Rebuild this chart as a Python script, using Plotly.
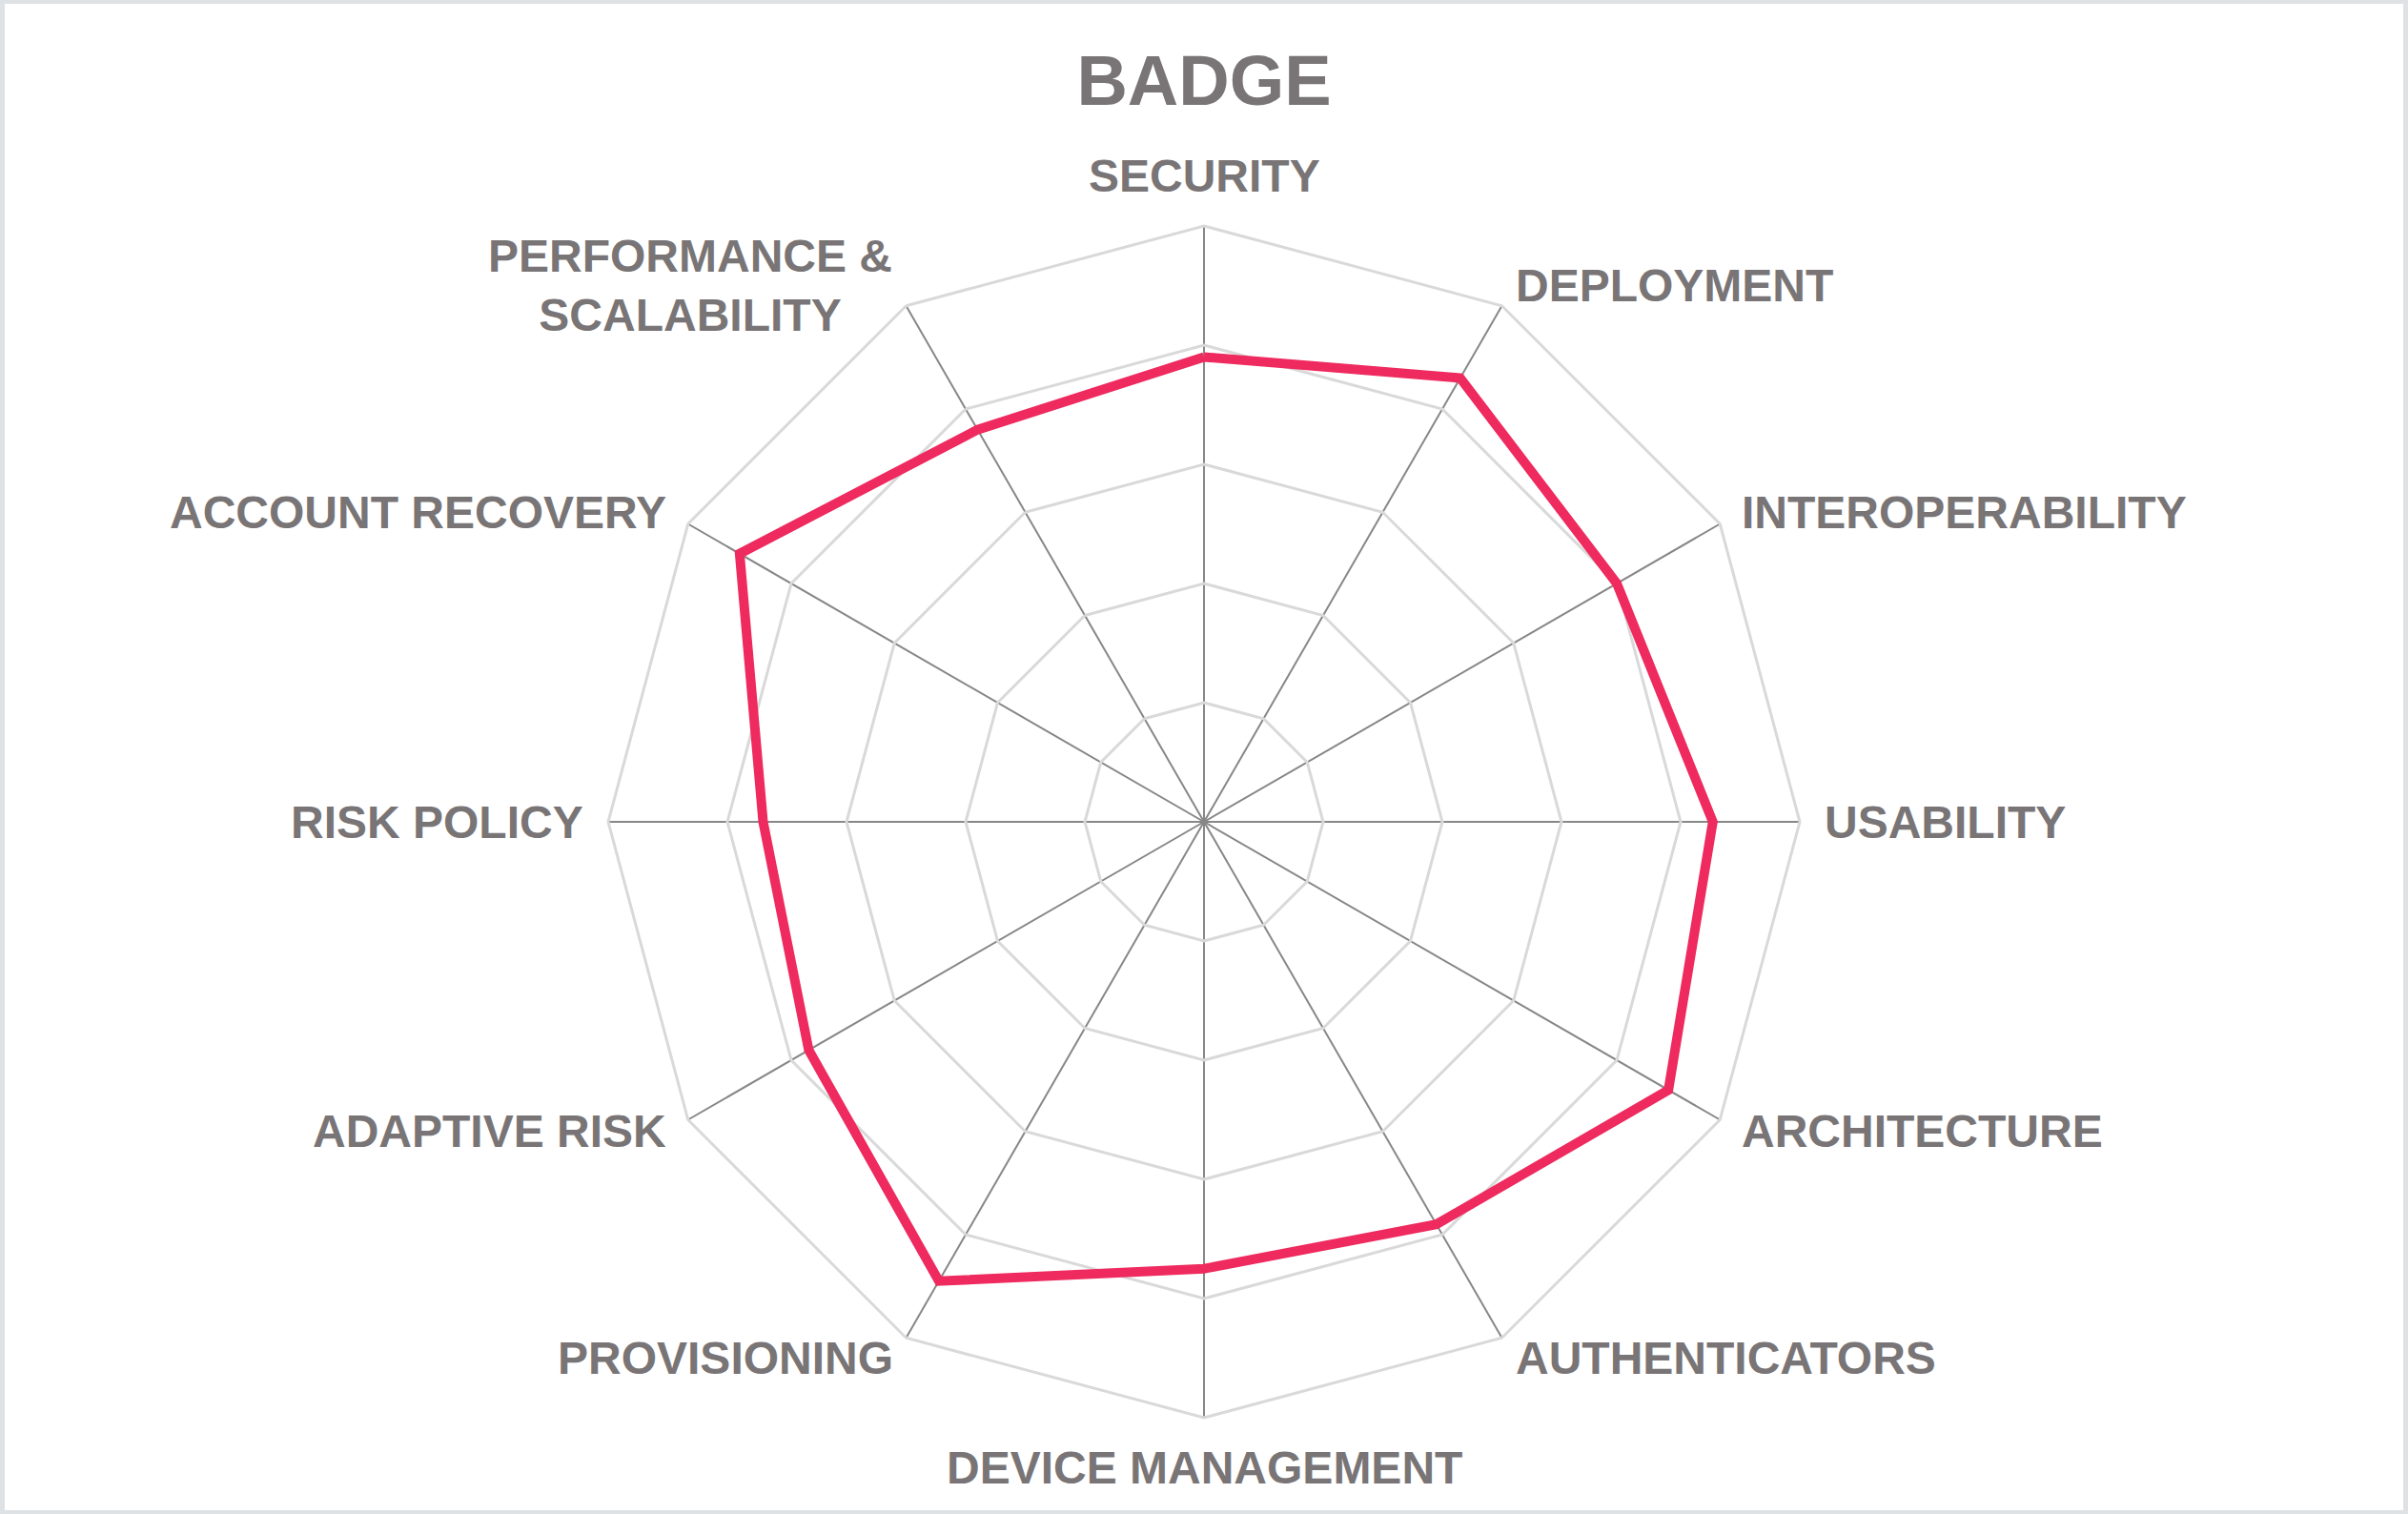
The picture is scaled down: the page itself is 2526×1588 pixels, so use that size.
import numpy as np
import plotly.graph_objects as go

# 评分维度 (从顶部顺时针)
categories = [
    'SECURITY', 'DEPLOYMENT', 'INTEROPERABILITY', 'USABILITY',
    'ARCHITECTURE', 'AUTHENTICATORS', 'DEVICE MANAGEMENT', 'PROVISIONING',
    'ADAPTIVE RISK', 'RISK POLICY', 'ACCOUNT RECOVERY',
    'PERFORMANCE &<br>SCALABILITY',
]
badge_scores = [3.9, 4.3, 4.0, 4.27, 4.5, 3.9, 3.75, 4.45, 3.83, 3.7, 4.5, 3.8]
radial_ticks = [0, 1, 2, 3, 4, 5]

W, H = 2526, 1588
grey_text = '#797576'
dom_y = [101 / H, 1 - 237 / H]

fig = go.Figure()
fig.add_trace(go.Scatterpolar(
    r=badge_scores + badge_scores[:1],
    theta=categories + categories[:1],
    mode='lines',
    name='BADGE',
    line=dict(color='#ee2a5e', width=10),
))

# 轴标签: 放在外圈顶点外侧 (Excel 风格)
radius_px = min(W, (dom_y[1] - dom_y[0]) * H) / 2
label_px = radius_px + 24
cx, cy = 0.5, (dom_y[0] + dom_y[1]) / 2
annotations = []
n = len(categories)
for i, name in enumerate(categories):
    ang = np.deg2rad(90 - 360 * i / n)
    c, s = np.cos(ang), np.sin(ang)
    xa = 'center' if abs(c) < 0.1 else ('left' if c > 0 else 'right')
    ya = 'middle' if abs(s) < 0.9 else ('bottom' if s > 0 else 'top')
    annotations.append(dict(
        text='<b>' + name + '</b>',
        xref='paper', yref='paper',
        x=cx + label_px * c / W, y=cy + label_px * s / H,
        xanchor=xa, yanchor=ya, showarrow=False,
        font=dict(family='Liberation Sans, Arial', size=48, color=grey_text),
    ))

fig.update_layout(
    width=W, height=H,
    paper_bgcolor='white',
    plot_bgcolor='white',
    margin=dict(l=0, r=0, t=0, b=0),
    showlegend=False,
    title=dict(
        text='<b>BADGE</b>',
        x=0.5, xanchor='center',
        y=1 - 84 / H, yanchor='middle', yref='container',
        font=dict(family='Liberation Sans, Arial', size=74, color=grey_text),
    ),
    font=dict(family='Liberation Sans, Arial', color=grey_text),
    polar=dict(
        domain=dict(x=[0, 1], y=dom_y),
        bgcolor='white',
        gridshape='linear',
        radialaxis=dict(
            range=[0, 5],
            tickvals=radial_ticks,
            showticklabels=False,
            ticks='',
            showline=False,
            gridcolor='#d9d9d9',
            gridwidth=3,
        ),
        angularaxis=dict(
            direction='clockwise',
            rotation=90,
            showline=True,
            linecolor='#d9d9d9',
            linewidth=3,
            gridcolor='#878787',
            gridwidth=2,
            ticks='',
            showticklabels=False,
        ),
    ),
    annotations=annotations,
    shapes=[dict(
        type='rect', xref='paper', yref='paper',
        x0=0.001, y0=0.001, x1=0.999, y1=0.999,
        line=dict(color='#dfe2e5', width=5),
    )],
)

fig.write_html('out.html', config={'displayModeBar': False},
               post_script="document.body.style.margin='0';")
